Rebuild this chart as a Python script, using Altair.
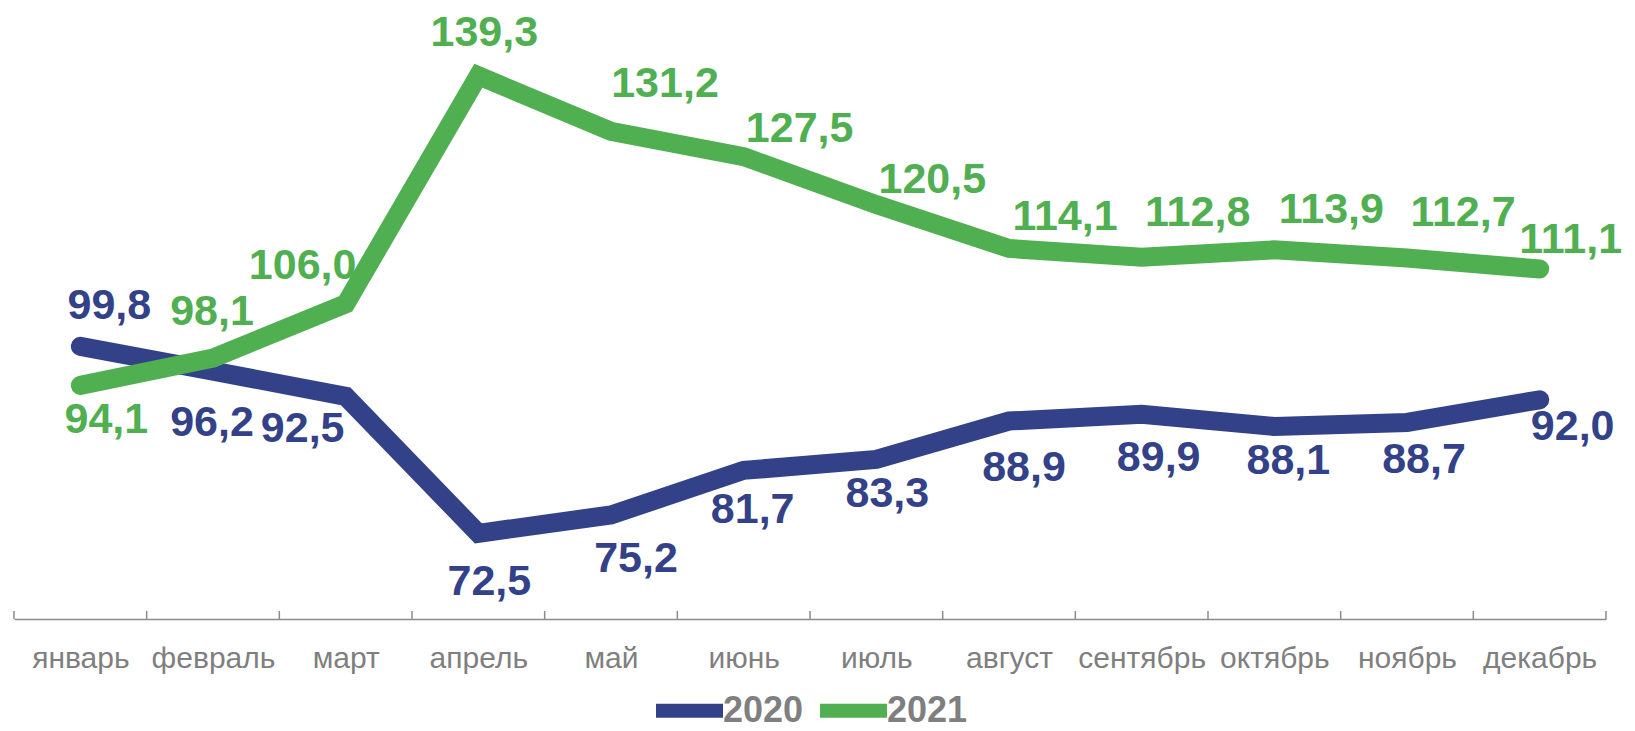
import altair as alt
import pandas as pd

months = ["январь", "февраль", "март", "апрель", "май", "июнь",
          "июль", "август", "сентябрь", "октябрь", "ноябрь", "декабрь"]
years = ["2020", "2021"]
values_2020 = [99.8, 96.2, 92.5, 72.5, 75.2, 81.7, 83.3, 88.9, 89.9, 88.1, 88.7, 92.0]
values_2021 = [94.1, 98.1, 106.0, 139.3, 131.2, 127.5, 120.5, 114.1, 112.8, 113.9, 112.7, 111.1]

# label nudges (pixels: right, down) relative to each point
nudge_2020 = [(29, -40), (-1, 52), (-43, 33), (11, 49), (25, 44), (9, 40),
              (11, 35), (15, 47), (17, 44), (14, 34), (17, 38), (33, 27)]
nudge_2021 = [(26, 35), (-1, -46), (-43, -38), (6, -43), (54, -47), (56, -28),
              (56, -25), (56, -31), (56, -44), (57, -40), (56, -45), (31, -29)]

W, H = 1592, 611
Y_MIN, Y_MAX = 60, 149.2
px_month = W / 12
px_unit = H / (Y_MAX - Y_MIN)

colors = ["#334288", "#50AF50"]

rows = []
for yr, vals, nud in [("2020", values_2020, nudge_2020), ("2021", values_2021, nudge_2021)]:
    for i, (m, v) in enumerate(zip(months, vals)):
        rows.append({
            "year": yr, "month": m, "x": i + 0.5, "value": v,
            "label": f"{v:.1f}".replace(".", ","),
            "lx": i + 0.5 + nud[i][0] / px_month,
            "ly": v - nud[i][1] / px_unit,
        })
df = pd.DataFrame(rows)
ticks_df = pd.DataFrame({"b": list(range(13))})

xscale = alt.Scale(domain=[0, 12], nice=False, zero=False)
yscale = alt.Scale(domain=[Y_MIN, Y_MAX], nice=False, zero=False)
cscale = alt.Scale(domain=years, range=colors)

month_arr = "[" + ",".join(f"'{m}'" for m in months) + "]"

xaxis = alt.Axis(
    values=[i + 0.5 for i in range(12)],
    labelExpr=f"{month_arr}[floor(datum.value)]",
    ticks=False, tickSize=0, grid=False, title=None,
    domainColor="#8c8c8c", domainWidth=1.5,
    labelFont="Liberation Sans", labelFontSize=30, labelColor="#7f7f7f",
    labelBaseline="alphabetic", labelPadding=48, labelFlush=False,
)

base_x = alt.X("x:Q", scale=xscale, axis=xaxis)

ticks = alt.Chart(ticks_df).mark_rule(color="#8c8c8c", strokeWidth=1.5).encode(
    x=alt.X("b:Q", scale=xscale, axis=xaxis),
    y=alt.value(H), y2=alt.value(H - 8),
)

lines = alt.Chart(df).mark_line(strokeWidth=19, strokeCap="round", strokeJoin="miter").encode(
    x=base_x,
    y=alt.Y("value:Q", scale=yscale, axis=None),
    color=alt.Color("year:N", scale=cscale, legend=alt.Legend(
        title=None, orient="none", direction="horizontal",
        legendX=635, legendY=662,
        symbolType="stroke", symbolSize=4489, symbolStrokeWidth=14,
        labelFont="Liberation Sans", labelFontSize=36, labelFontWeight="bold",
        labelColor="#7f7f7f", labelOffset={"expr": "-7"},
        columnPadding={"expr": "-12"},
    )),
    order=alt.Order("x:Q"),
)

texts = alt.Chart(df).mark_text(
    font="Liberation Sans", fontSize=43, fontWeight="bold",
    align="center", baseline="middle",
).encode(
    x=alt.X("lx:Q", scale=xscale, axis=xaxis),
    y=alt.Y("ly:Q", scale=yscale, axis=None),
    text="label:N",
    color=alt.Color("year:N", scale=cscale, legend=None),
)

chart = alt.layer(ticks, lines, texts).properties(
    width=W, height=H,
    autosize=alt.AutoSizeParams(type="none"),
    padding={"left": 6, "top": 0, "right": 20, "bottom": 106},
).configure_view(stroke=None)

chart.save("out.html", embed_options={"renderer": "svg", "actions": False})
